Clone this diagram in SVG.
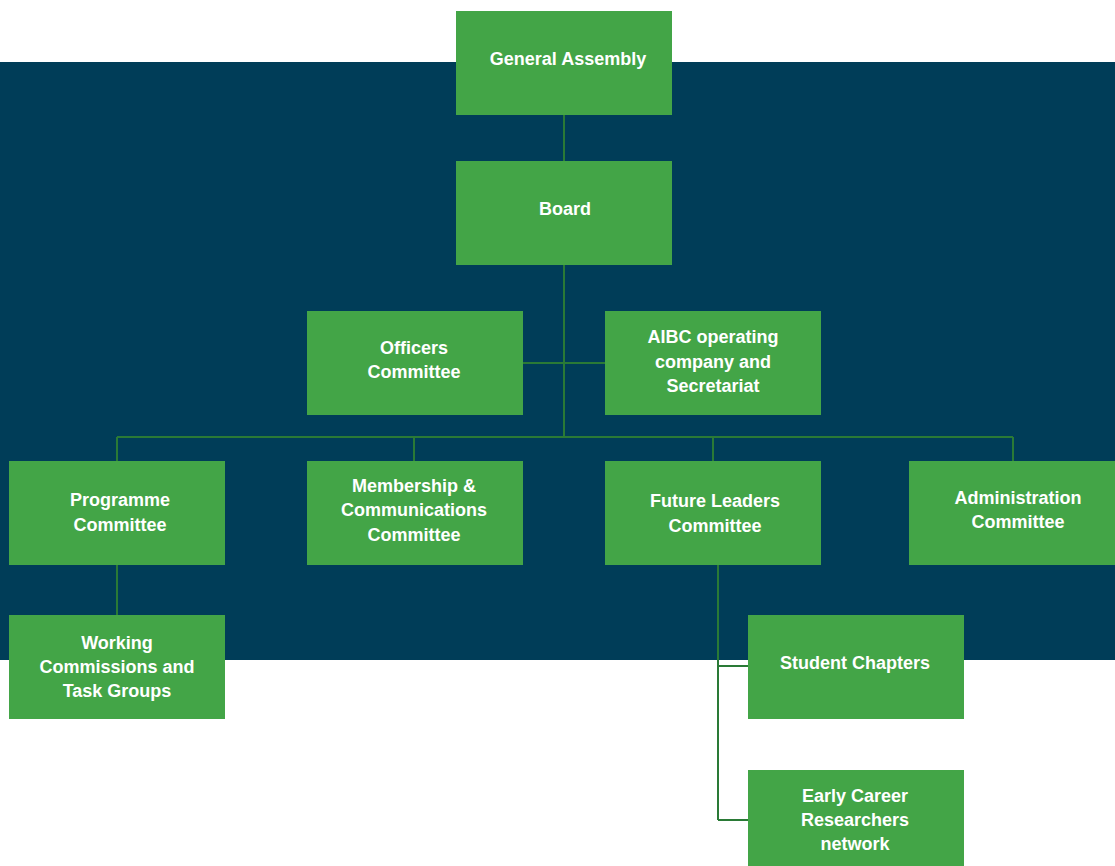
<svg xmlns="http://www.w3.org/2000/svg" width="1115" height="866" viewBox="0 0 1115 866">
<style>
.box{fill:#43a547}
.t{fill:#fff;font-family:"Liberation Sans",Arial,sans-serif;font-weight:bold;font-size:18px;text-anchor:middle}
.c{stroke:#2a7a36;stroke-width:2;fill:none}
</style>
<rect x="0" y="0" width="1115" height="866" fill="#fff"/>
<rect x="0" y="62" width="1115" height="598" fill="#003d58"/>
<g id="connectors">
<path class="c" d="M564 115V437M523 363H605M117 437H1013M117 437V461M414 437V461M713 437V461M1013 437V461M117 565V615M718 565V820M718 666H748M718 820H748"/>
</g>
<g id="general-assembly"><rect class="box" x="456" y="11" width="216" height="104"/><text class="t" x="568" y="65">General Assembly</text></g>
<g id="board"><rect class="box" x="456" y="161" width="216" height="104"/><text class="t" x="565" y="215">Board</text></g>
<g id="officers"><rect class="box" x="307" y="311" width="216" height="104"/><text class="t" x="414" y="354">Officers</text><text class="t" x="414" y="378">Committee</text></g>
<g id="aibc"><rect class="box" x="605" y="311" width="216" height="104"/><text class="t" x="713" y="343">AIBC operating</text><text class="t" x="713" y="368">company and</text><text class="t" x="713" y="392">Secretariat</text></g>
<g id="programme"><rect class="box" x="9" y="461" width="216" height="104"/><text class="t" x="120" y="506">Programme</text><text class="t" x="120" y="531">Committee</text></g>
<g id="membership"><rect class="box" x="307" y="461" width="216" height="104"/><text class="t" x="414" y="492">Membership &amp;</text><text class="t" x="414" y="516">Communications</text><text class="t" x="414" y="541">Committee</text></g>
<g id="future-leaders"><rect class="box" x="605" y="461" width="216" height="104"/><text class="t" x="715" y="507">Future Leaders</text><text class="t" x="715" y="532">Committee</text></g>
<g id="administration"><rect class="box" x="909" y="461" width="216" height="104"/><text class="t" x="1018" y="504">Administration</text><text class="t" x="1018" y="528">Committee</text></g>
<g id="working"><rect class="box" x="9" y="615" width="216" height="104"/><text class="t" x="117" y="649">Working</text><text class="t" x="117" y="673">Commissions and</text><text class="t" x="117" y="697">Task Groups</text></g>
<g id="student"><rect class="box" x="748" y="615" width="216" height="104"/><text class="t" x="855" y="669">Student Chapters</text></g>
<g id="early-career"><rect class="box" x="748" y="770" width="216" height="104"/><text class="t" x="855" y="802">Early Career</text><text class="t" x="855" y="826">Researchers</text><text class="t" x="855" y="850">network</text></g>
</svg>
